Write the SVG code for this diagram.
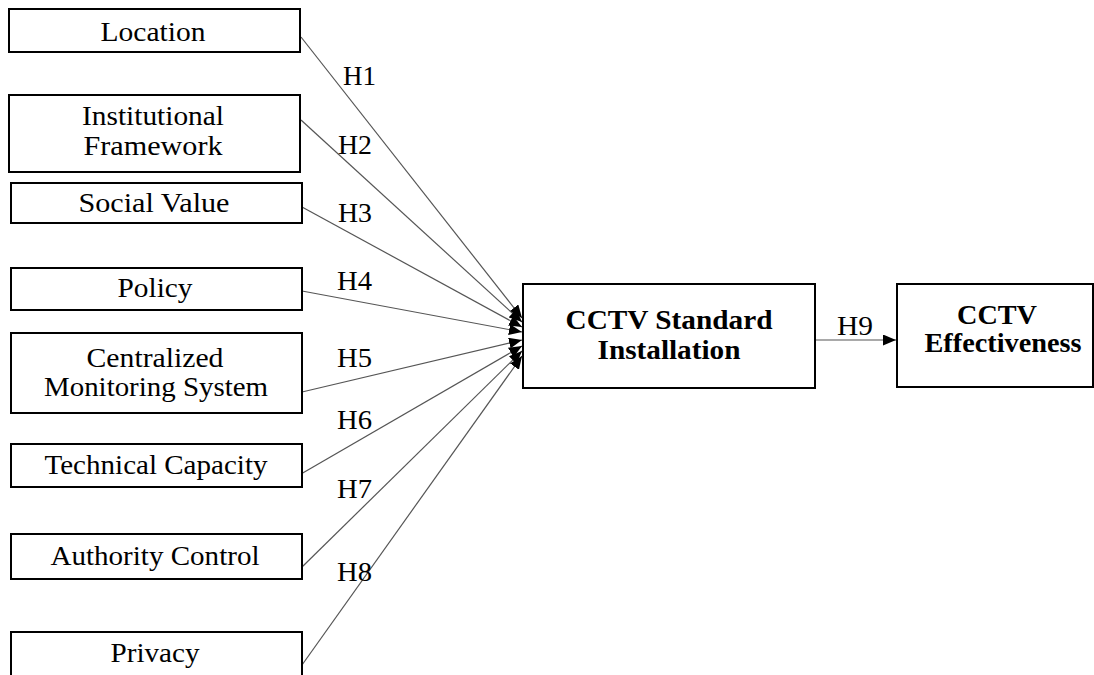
<svg xmlns="http://www.w3.org/2000/svg" width="1094" height="675" viewBox="0 0 1094 675">
<style>
.box{fill:#fff;stroke:#000;stroke-width:2}
.t{font-family:"Liberation Serif","Times New Roman",serif;font-size:28px;fill:#000;text-anchor:middle}
.b{font-family:"Liberation Serif","Times New Roman",serif;font-size:27px;font-weight:bold;fill:#000;text-anchor:middle}
.h{font-family:"Liberation Serif","Times New Roman",serif;font-size:27px;fill:#000}
.c{stroke:#555;stroke-width:1.2;fill:none;marker-end:url(#ah)}
</style>
<defs>
<marker id="ah" markerUnits="userSpaceOnUse" markerWidth="14" markerHeight="11" refX="13" refY="5.5" orient="auto">
<path d="M0,0 L13,5.5 L0,11 Z" fill="#000"/>
</marker>
</defs>
<rect width="1094" height="675" fill="#fff"/>
<g id="connectors">
<line class="c" x1="301" y1="37" x2="522" y2="318"/>
<line class="c" x1="301" y1="120" x2="522" y2="322"/>
<line class="c" x1="302" y1="207" x2="522" y2="327"/>
<line class="c" x1="302" y1="291" x2="522" y2="332"/>
<line class="c" x1="302" y1="392" x2="522" y2="340"/>
<line class="c" x1="301" y1="474" x2="522" y2="346"/>
<line class="c" x1="301" y1="568" x2="522" y2="351"/>
<line class="c" x1="302" y1="665" x2="522" y2="356"/>
<line class="c" x1="815" y1="340" x2="896" y2="340"/>
<text class="h" x="343" y="85" textLength="33" lengthAdjust="spacingAndGlyphs">H1</text>
<text class="h" x="338" y="154" textLength="34" lengthAdjust="spacingAndGlyphs">H2</text>
<text class="h" x="338" y="222" textLength="34" lengthAdjust="spacingAndGlyphs">H3</text>
<text class="h" x="337" y="290" textLength="35" lengthAdjust="spacingAndGlyphs">H4</text>
<text class="h" x="337" y="367" textLength="35" lengthAdjust="spacingAndGlyphs">H5</text>
<text class="h" x="337" y="429" textLength="35" lengthAdjust="spacingAndGlyphs">H6</text>
<text class="h" x="337" y="498" textLength="35" lengthAdjust="spacingAndGlyphs">H7</text>
<text class="h" x="337" y="581" textLength="35" lengthAdjust="spacingAndGlyphs">H8</text>
<text class="h" x="837" y="335" textLength="36" lengthAdjust="spacingAndGlyphs">H9</text>
</g>
<g id="location">
<rect class="box" x="9" y="9" width="291" height="43"/>
<text class="t" x="153" y="41" textLength="105" lengthAdjust="spacingAndGlyphs">Location</text>
</g>
<g id="institutional-framework">
<rect class="box" x="9" y="95" width="291" height="77"/>
<text class="t" x="153" y="125" textLength="142" lengthAdjust="spacingAndGlyphs">Institutional</text>
<text class="t" x="153" y="155" textLength="139" lengthAdjust="spacingAndGlyphs">Framework</text>
</g>
<g id="social-value">
<rect class="box" x="11" y="183" width="291" height="40"/>
<text class="t" x="154" y="212" textLength="151" lengthAdjust="spacingAndGlyphs">Social Value</text>
</g>
<g id="policy">
<rect class="box" x="11" y="268" width="291" height="42"/>
<text class="t" x="155" y="297" textLength="75" lengthAdjust="spacingAndGlyphs">Policy</text>
</g>
<g id="centralized-monitoring-system">
<rect class="box" x="11" y="333" width="291" height="80"/>
<text class="t" x="155" y="367" textLength="137" lengthAdjust="spacingAndGlyphs">Centralized</text>
<text class="t" x="156" y="396" textLength="224" lengthAdjust="spacingAndGlyphs">Monitoring System</text>
</g>
<g id="technical-capacity">
<rect class="box" x="11" y="444" width="291" height="43"/>
<text class="t" x="156" y="474" textLength="223" lengthAdjust="spacingAndGlyphs">Technical Capacity</text>
</g>
<g id="authority-control">
<rect class="box" x="11" y="534" width="291" height="45"/>
<text class="t" x="155" y="565" textLength="209" lengthAdjust="spacingAndGlyphs">Authority Control</text>
</g>
<g id="privacy">
<rect class="box" x="11" y="632" width="291" height="60"/>
<text class="t" x="155" y="662" textLength="89" lengthAdjust="spacingAndGlyphs">Privacy</text>
</g>
<g id="cctv-standard-installation">
<rect class="box" x="523" y="284" width="292" height="104"/>
<text class="b" x="669" y="329" textLength="207" lengthAdjust="spacingAndGlyphs">CCTV Standard</text>
<text class="b" x="669" y="359" textLength="143" lengthAdjust="spacingAndGlyphs">Installation</text>
</g>
<g id="cctv-effectiveness">
<rect class="box" x="897" y="284" width="196" height="103"/>
<text class="b" x="997" y="324" textLength="80" lengthAdjust="spacingAndGlyphs">CCTV</text>
<text class="b" x="1003" y="352" textLength="157" lengthAdjust="spacingAndGlyphs">Effectiveness</text>
</g>
</svg>
